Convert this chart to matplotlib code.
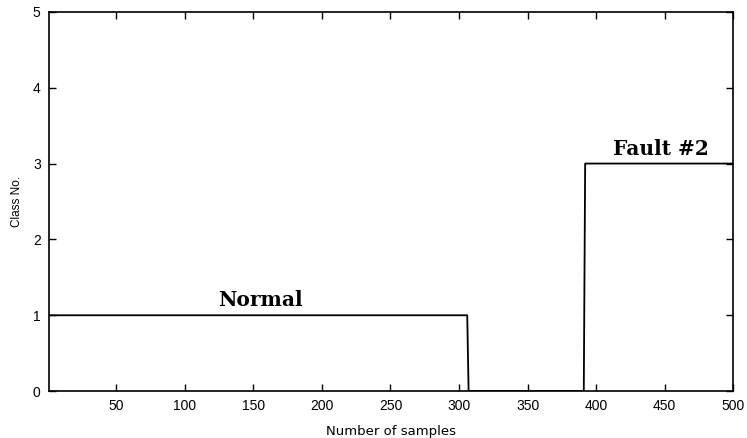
import matplotlib
matplotlib.use("Agg")
import matplotlib.pyplot as plt
import numpy as np

# class number per sample, as runs: value and last sample of the run
segment_classes = [1, 0, 3]
segment_ends = [306, 391, 500]

x_ticks = [50, 100, 150, 200, 250, 300, 350, 400, 450, 500]
y_ticks = [0, 1, 2, 3, 4, 5]

samples = np.arange(1, segment_ends[-1] + 1)
classes = np.empty(len(samples))
start = 1
for cls, end in zip(segment_classes, segment_ends):
    classes[(samples >= start) & (samples <= end)] = cls
    start = end + 1

plt.rcParams['font.family'] = ['Liberation Sans', 'DejaVu Sans']

fig = plt.figure(figsize=(7.47, 4.38), dpi=100)
ax = fig.add_axes([0.0656, 0.107, 0.916, 0.866])

ax.plot(samples, classes, color='black', linewidth=1.3)

ax.set_xlim(1, 500)
ax.set_ylim(0, 5)
ax.set_xticks(x_ticks)
ax.set_yticks(y_ticks)
ax.tick_params(direction='in', length=5, width=1, top=True, right=True,
               labelsize=10, pad=6)
for s in ax.spines.values():
    s.set_linewidth(1.2)

ax.set_xlabel("Number of samples", fontsize=9.5, labelpad=8,
              family=['DejaVu Sans'])
ax.set_ylabel("Class No.", fontsize=8.5, labelpad=7)

ax.text(155, 1.2, "Normal", family=['DejaVu Serif'],
        fontweight='bold', fontsize=14.5, ha='center', va='center')
ax.text(447, 3.19, "Fault #2", family=['DejaVu Serif'],
        fontweight='bold', fontsize=14.5, ha='center', va='center')

fig.savefig("out.png", dpi=100)
